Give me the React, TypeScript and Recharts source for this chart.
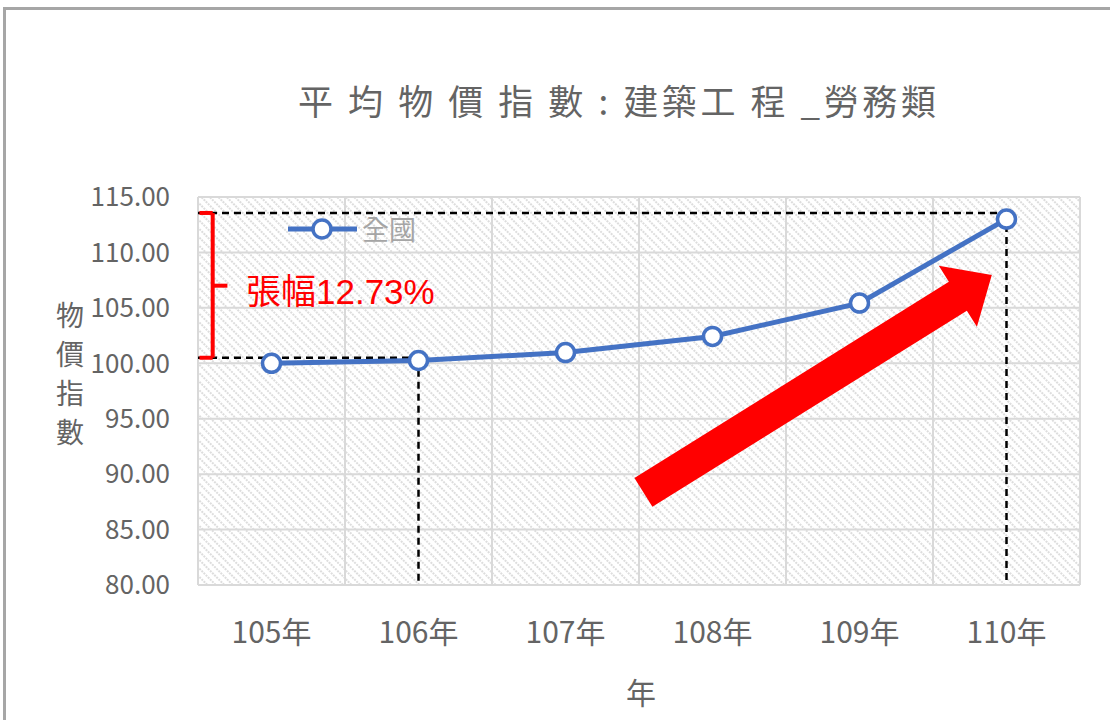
import { LineChart, Line, XAxis, YAxis, CartesianGrid, ReferenceLine } from "recharts"

const years = ["105年", "106年", "107年", "108年", "109年", "110年"]
const nationalIndex = [100.0, 100.25, 100.97, 102.42, 105.43, 113.01]
const yTicks = [80, 85, 90, 95, 100, 105, 110, 115]
const seriesName = "全國"
const riseLabel = "張幅12.73%"

// guide lines drawn by hand in the original, in data units
const topGuide = 113.56
const baseGuide = 100.5
const bracketMid = 107.0
const arrowTail = { x: 3.03, y: 88.35 }
const arrowTip = { x: 5.4, y: 107.96 }

const chartData = years.map((year, i) => ({ x: i + 0.5, year, value: nationalIndex[i] }))
const xTicks = chartData.map((d) => d.x)

const FONT = "'Noto Sans CJK TC', 'Noto Sans', sans-serif"
const GREY = "#646464"
const BLUE = "#4472C4"
const RED = "#FF0000"

function Arrow(props: any) {
  const { x1, y1, x2, y2 } = props
  const dx = x2 - x1
  const dy = y2 - y1
  const len = Math.sqrt(dx * dx + dy * dy)
  const ux = dx / len
  const uy = dy / len
  const nx = -uy
  const ny = ux
  const shaft = 17
  const head = 36
  const headLen = 40
  const bx = x2 - ux * headLen
  const by = y2 - uy * headLen
  const pts = [
    [x1 + nx * shaft, y1 + ny * shaft],
    [bx + nx * shaft, by + ny * shaft],
    [bx + nx * head, by + ny * head],
    [x2, y2],
    [bx - nx * head, by - ny * head],
    [bx - nx * shaft, by - ny * shaft],
    [x1 - nx * shaft, y1 - ny * shaft],
  ]
  return <polygon points={pts.map((p) => p.join(",")).join(" ")} fill={RED} />
}

export default function App() {
  return (
    <div style={{ position: "absolute", left: 0, top: 0, width: 1110, height: 720, overflow: "hidden", background: "#fff" }}>
      <div
        style={{
          position: "absolute",
          left: 3,
          top: 7,
          width: 1300,
          height: 900,
          borderTop: "3px solid #a6a6a6",
          borderLeft: "3px solid #a6a6a6",
        }}
      />
      <div style={{ position: "absolute", left: 0, top: 0 }}>
        <LineChart
          width={1110}
          height={720}
          data={chartData}
          margin={{ top: 197, right: 30, left: 0, bottom: 75 }}
        >
          <defs>
            <pattern id="hatch" width="6" height="6" patternUnits="userSpaceOnUse" patternTransform="rotate(45)">
              <rect width="6" height="6" fill="#ffffff" />
              <line x1="0" y1="3" x2="6" y2="3" stroke="#d2d2d2" strokeWidth={1.3} strokeDasharray="2 1" />
            </pattern>
          </defs>
          <CartesianGrid
            fill="url(#hatch)"
            stroke="#d9d9d9"
            strokeWidth={2}
            verticalCoordinatesGenerator={({ xAxis, offset }: any) => {
              const bounds = [0, 1, 2, 3, 4, 5, 6]
              if (xAxis && typeof xAxis.scale === "function") return bounds.map((b) => xAxis.scale(b))
              return bounds.map((b) => offset.left + (b * offset.width) / 6)
            }}
          />
          <XAxis
            type="number"
            dataKey="x"
            domain={[0, 6]}
            ticks={xTicks}
            tickFormatter={(v: number) => years[Math.round(v - 0.5)]}
            height={60}
            axisLine={false}
            tickLine={false}
            tickSize={0}
            tickMargin={37}
            tick={{ fill: GREY, fontSize: 30, fontFamily: FONT }}
          />
          <YAxis
            type="number"
            domain={[80, 115]}
            ticks={yTicks}
            tickFormatter={(v: number) => v.toFixed(2)}
            width={198}
            axisLine={false}
            tickLine={false}
            tickSize={0}
            tickMargin={28}
            tick={{ fill: GREY, fontSize: 26, fontFamily: FONT }}
          />
          <ReferenceLine
            segment={[{ x: 0, y: topGuide }, { x: 5.5, y: topGuide }]}
            stroke="#000"
            strokeWidth={2.5}
            strokeDasharray="7 5"
          />
          <ReferenceLine
            segment={[{ x: 5.5, y: topGuide }, { x: 5.5, y: 80 }]}
            stroke="#000"
            strokeWidth={2.5}
            strokeDasharray="7 5"
          />
          <ReferenceLine
            segment={[{ x: 0, y: baseGuide }, { x: 1.5, y: baseGuide }]}
            stroke="#000"
            strokeWidth={2.5}
            strokeDasharray="7 5"
          />
          <ReferenceLine
            segment={[{ x: 1.5, y: baseGuide }, { x: 1.5, y: 80 }]}
            stroke="#000"
            strokeWidth={2.5}
            strokeDasharray="7 5"
          />
          <ReferenceLine segment={[{ x: 0.1, y: baseGuide }, { x: 0.1, y: topGuide }]} stroke={RED} strokeWidth={4} />
          <ReferenceLine segment={[{ x: 0.01, y: topGuide }, { x: 0.1, y: topGuide }]} stroke={RED} strokeWidth={4} />
          <ReferenceLine segment={[{ x: 0.01, y: baseGuide }, { x: 0.1, y: baseGuide }]} stroke={RED} strokeWidth={4} />
          <ReferenceLine segment={[{ x: 0.1, y: bracketMid }, { x: 0.2, y: bracketMid }]} stroke={RED} strokeWidth={4} />
          <ReferenceLine segment={[arrowTail, arrowTip]} shape={Arrow} />
          <Line
            type="linear"
            dataKey="value"
            name={seriesName}
            stroke={BLUE}
            strokeWidth={5}
            dot={{ r: 9, fill: "#fff", stroke: BLUE, strokeWidth: 3.5 }}
            isAnimationActive={false}
          />
        </LineChart>
      </div>
      <svg width={1110} height={720} style={{ position: "absolute", left: 0, top: 0, pointerEvents: "none" }}>
        <text x={298} y={115} fontSize={35} fill={GREY} fontFamily={FONT} textLength={638} lengthAdjust="spacing">
          平 均 物 價 指 數 : 建築工 程 _勞務類
        </text>
        <text x={70} fontSize={28} fill={GREY} fontFamily={FONT} textAnchor="middle">
          {"物價指數".split("").map((ch, i) => (
            <tspan key={ch} x={70} y={326 + i * 39}>
              {ch}
            </tspan>
          ))}
        </text>
        <text x={641} y={704} fontSize={30} fill={GREY} fontFamily={FONT} textAnchor="middle">
          年
        </text>
        <line x1={288} y1={229} x2={357} y2={229} stroke={BLUE} strokeWidth={5} />
        <circle cx={322} cy={229} r={9} fill="#fff" stroke={BLUE} strokeWidth={3.5} />
        <text x={362} y={240} fontSize={27} fill="#a5a5a5" fontFamily={FONT}>
          {seriesName}
        </text>
        <text x={246} y={304} fontSize={35} fill={RED} fontFamily={"'Liberation Sans', " + FONT}>
          {riseLabel}
        </text>
      </svg>
    </div>
  )
}
